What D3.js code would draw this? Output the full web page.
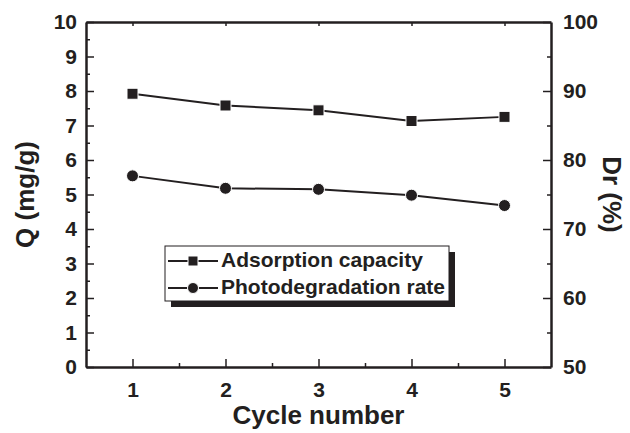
<!DOCTYPE html>
<html>
<head>
<meta charset="utf-8">
<script src="https://cdn.jsdelivr.net/npm/d3@7"></script>
<style>
  body { margin: 0; background: #fff; }
  text { font-family: "Liberation Sans", Arial, sans-serif; font-weight: bold; fill: #231f20; }
</style>
</head>
<body>
<div id="chart"></div>
<script>
// data
var cycles = [1, 2, 3, 4, 5];
var adsorption = [7.92, 7.58, 7.44, 7.13, 7.25];      // Q (mg/g), left axis
var photodeg = [77.7, 75.9, 75.75, 74.9, 73.4];       // Dr (%), right axis
var leftTicks = [0, 1, 2, 3, 4, 5, 6, 7, 8, 9, 10];
var rightTicks = [50, 60, 70, 80, 90, 100];
var seriesNames = ["Adsorption capacity", "Photodegradation rate"];

var svgWidth = 630;
var svgHeight = 433;
var margin = { top: 22, right: 79, bottom: 66, left: 86 };
var width = svgWidth - margin.left - margin.right;
var height = svgHeight - margin.top - margin.bottom;
var ink = "#231f20";

var svg = d3.select("#chart")
  .append("svg")
  .attr("width", svgWidth)
  .attr("height", svgHeight);

var chartGroup = svg.append("g")
  .attr("transform", `translate(${margin.left}, ${margin.top})`);

var xScale = d3.scaleLinear().domain([0.5, 5.5]).range([0, width]);
var yLeft = d3.scaleLinear().domain([0, 10]).range([height, 0]);
var yRight = d3.scaleLinear().domain([50, 100]).range([height, 0]);

// minor ticks first (no labels), then major axes
function minor(axis, vals, transform) {
  chartGroup.append("g")
    .attr("transform", transform || null)
    .call(axis.tickValues(vals).tickSize(-4).tickFormat(""))
    .call(g => g.select(".domain").remove())
    .selectAll("line").attr("stroke", ink).attr("stroke-width", 1.5);
}
minor(d3.axisBottom(xScale), [1.5, 2.5, 3.5, 4.5], `translate(0, ${height})`);
minor(d3.axisLeft(yLeft), d3.range(0.5, 10, 1));
minor(d3.axisRight(yRight), [55, 65, 75, 85, 95], `translate(${width}, 0)`);

function styleAxis(g) {
  g.select(".domain").attr("stroke", ink).attr("stroke-width", 2.5);
  g.selectAll(".tick line").attr("stroke", ink).attr("stroke-width", 1.5);
  g.selectAll(".tick text").style("font-size", "21px").attr("fill", ink);
}

var xAxis = chartGroup.append("g")
  .attr("transform", `translate(0, ${height})`)
  .call(d3.axisBottom(xScale).tickValues(cycles).tickSizeInner(-8).tickSizeOuter(0).tickPadding(15).tickFormat(d3.format("d")))
  .call(styleAxis);

chartGroup.append("g")
  .call(d3.axisTop(xScale).tickValues(cycles).tickSizeInner(-4).tickSizeOuter(0).tickFormat(""))
  .call(styleAxis);

chartGroup.append("g")
  .call(d3.axisLeft(yLeft).tickValues(leftTicks).tickSizeInner(-8).tickSizeOuter(0).tickPadding(9))
  .call(styleAxis);

chartGroup.append("g")
  .attr("transform", `translate(${width}, 0)`)
  .call(d3.axisRight(yRight).tickValues(rightTicks).tickSizeInner(-8).tickSizeOuter(0).tickPadding(12))
  .call(styleAxis);

// axis titles
chartGroup.append("text")
  .attr("x", width / 2)
  .attr("y", height + 57)
  .attr("text-anchor", "middle")
  .style("font-size", "26px")
  .text("Cycle number");

chartGroup.append("text")
  .attr("transform", "rotate(-90)")
  .attr("x", -height / 2)
  .attr("y", -margin.left + 34)
  .attr("text-anchor", "middle")
  .style("font-size", "26px")
  .text("Q (mg/g)");

chartGroup.append("text")
  .attr("transform", "rotate(90)")
  .attr("x", height / 2)
  .attr("y", -(width + 52))
  .attr("text-anchor", "middle")
  .style("font-size", "26px")
  .text("Dr (%)");

// lines
var adsLine = d3.line().x((d, i) => xScale(cycles[i])).y(d => yLeft(d));
var photoLine = d3.line().x((d, i) => xScale(cycles[i])).y(d => yRight(d));

chartGroup.append("path")
  .datum(adsorption)
  .attr("d", adsLine)
  .attr("fill", "none")
  .attr("stroke", ink)
  .attr("stroke-width", 2);

chartGroup.append("path")
  .datum(photodeg)
  .attr("d", photoLine)
  .attr("fill", "none")
  .attr("stroke", ink)
  .attr("stroke-width", 2);

// markers
chartGroup.selectAll(".sq")
  .data(adsorption)
  .enter()
  .append("rect")
  .attr("x", (d, i) => xScale(cycles[i]) - 5.5)
  .attr("y", d => yLeft(d) - 5.5)
  .attr("width", 11)
  .attr("height", 11)
  .attr("fill", ink)
  .attr("stroke", "#fff")
  .attr("stroke-width", 1);

chartGroup.selectAll(".dot")
  .data(photodeg)
  .enter()
  .append("circle")
  .attr("cx", (d, i) => xScale(cycles[i]))
  .attr("cy", d => yRight(d))
  .attr("r", 6)
  .attr("fill", ink)
  .attr("stroke", "#fff")
  .attr("stroke-width", 1);

// legend with drop shadow
var legend = svg.append("g").attr("transform", "translate(165, 246)");
legend.append("rect")
  .attr("x", 6).attr("y", 6)
  .attr("width", 284).attr("height", 55)
  .attr("fill", ink);
legend.append("rect")
  .attr("x", 0).attr("y", 0)
  .attr("width", 284).attr("height", 55)
  .attr("fill", "#fff")
  .attr("stroke", ink)
  .attr("stroke-width", 1);

seriesNames.forEach(function(name, i) {
  var yy = 15 + i * 27;
  legend.append("line")
    .attr("x1", 3).attr("x2", 53)
    .attr("y1", yy).attr("y2", yy)
    .attr("stroke", ink).attr("stroke-width", 2);
  if (i === 0) {
    legend.append("rect")
      .attr("x", 23).attr("y", yy - 5)
      .attr("width", 10).attr("height", 10)
      .attr("fill", ink).attr("stroke", "#fff");
  } else {
    legend.append("circle")
      .attr("cx", 28).attr("cy", yy)
      .attr("r", 5.5)
      .attr("fill", ink).attr("stroke", "#fff");
  }
  legend.append("text")
    .attr("x", 56)
    .attr("y", yy + 6)
    .style("font-size", "21px")
    .text(name);
});
</script>
</body>
</html>
